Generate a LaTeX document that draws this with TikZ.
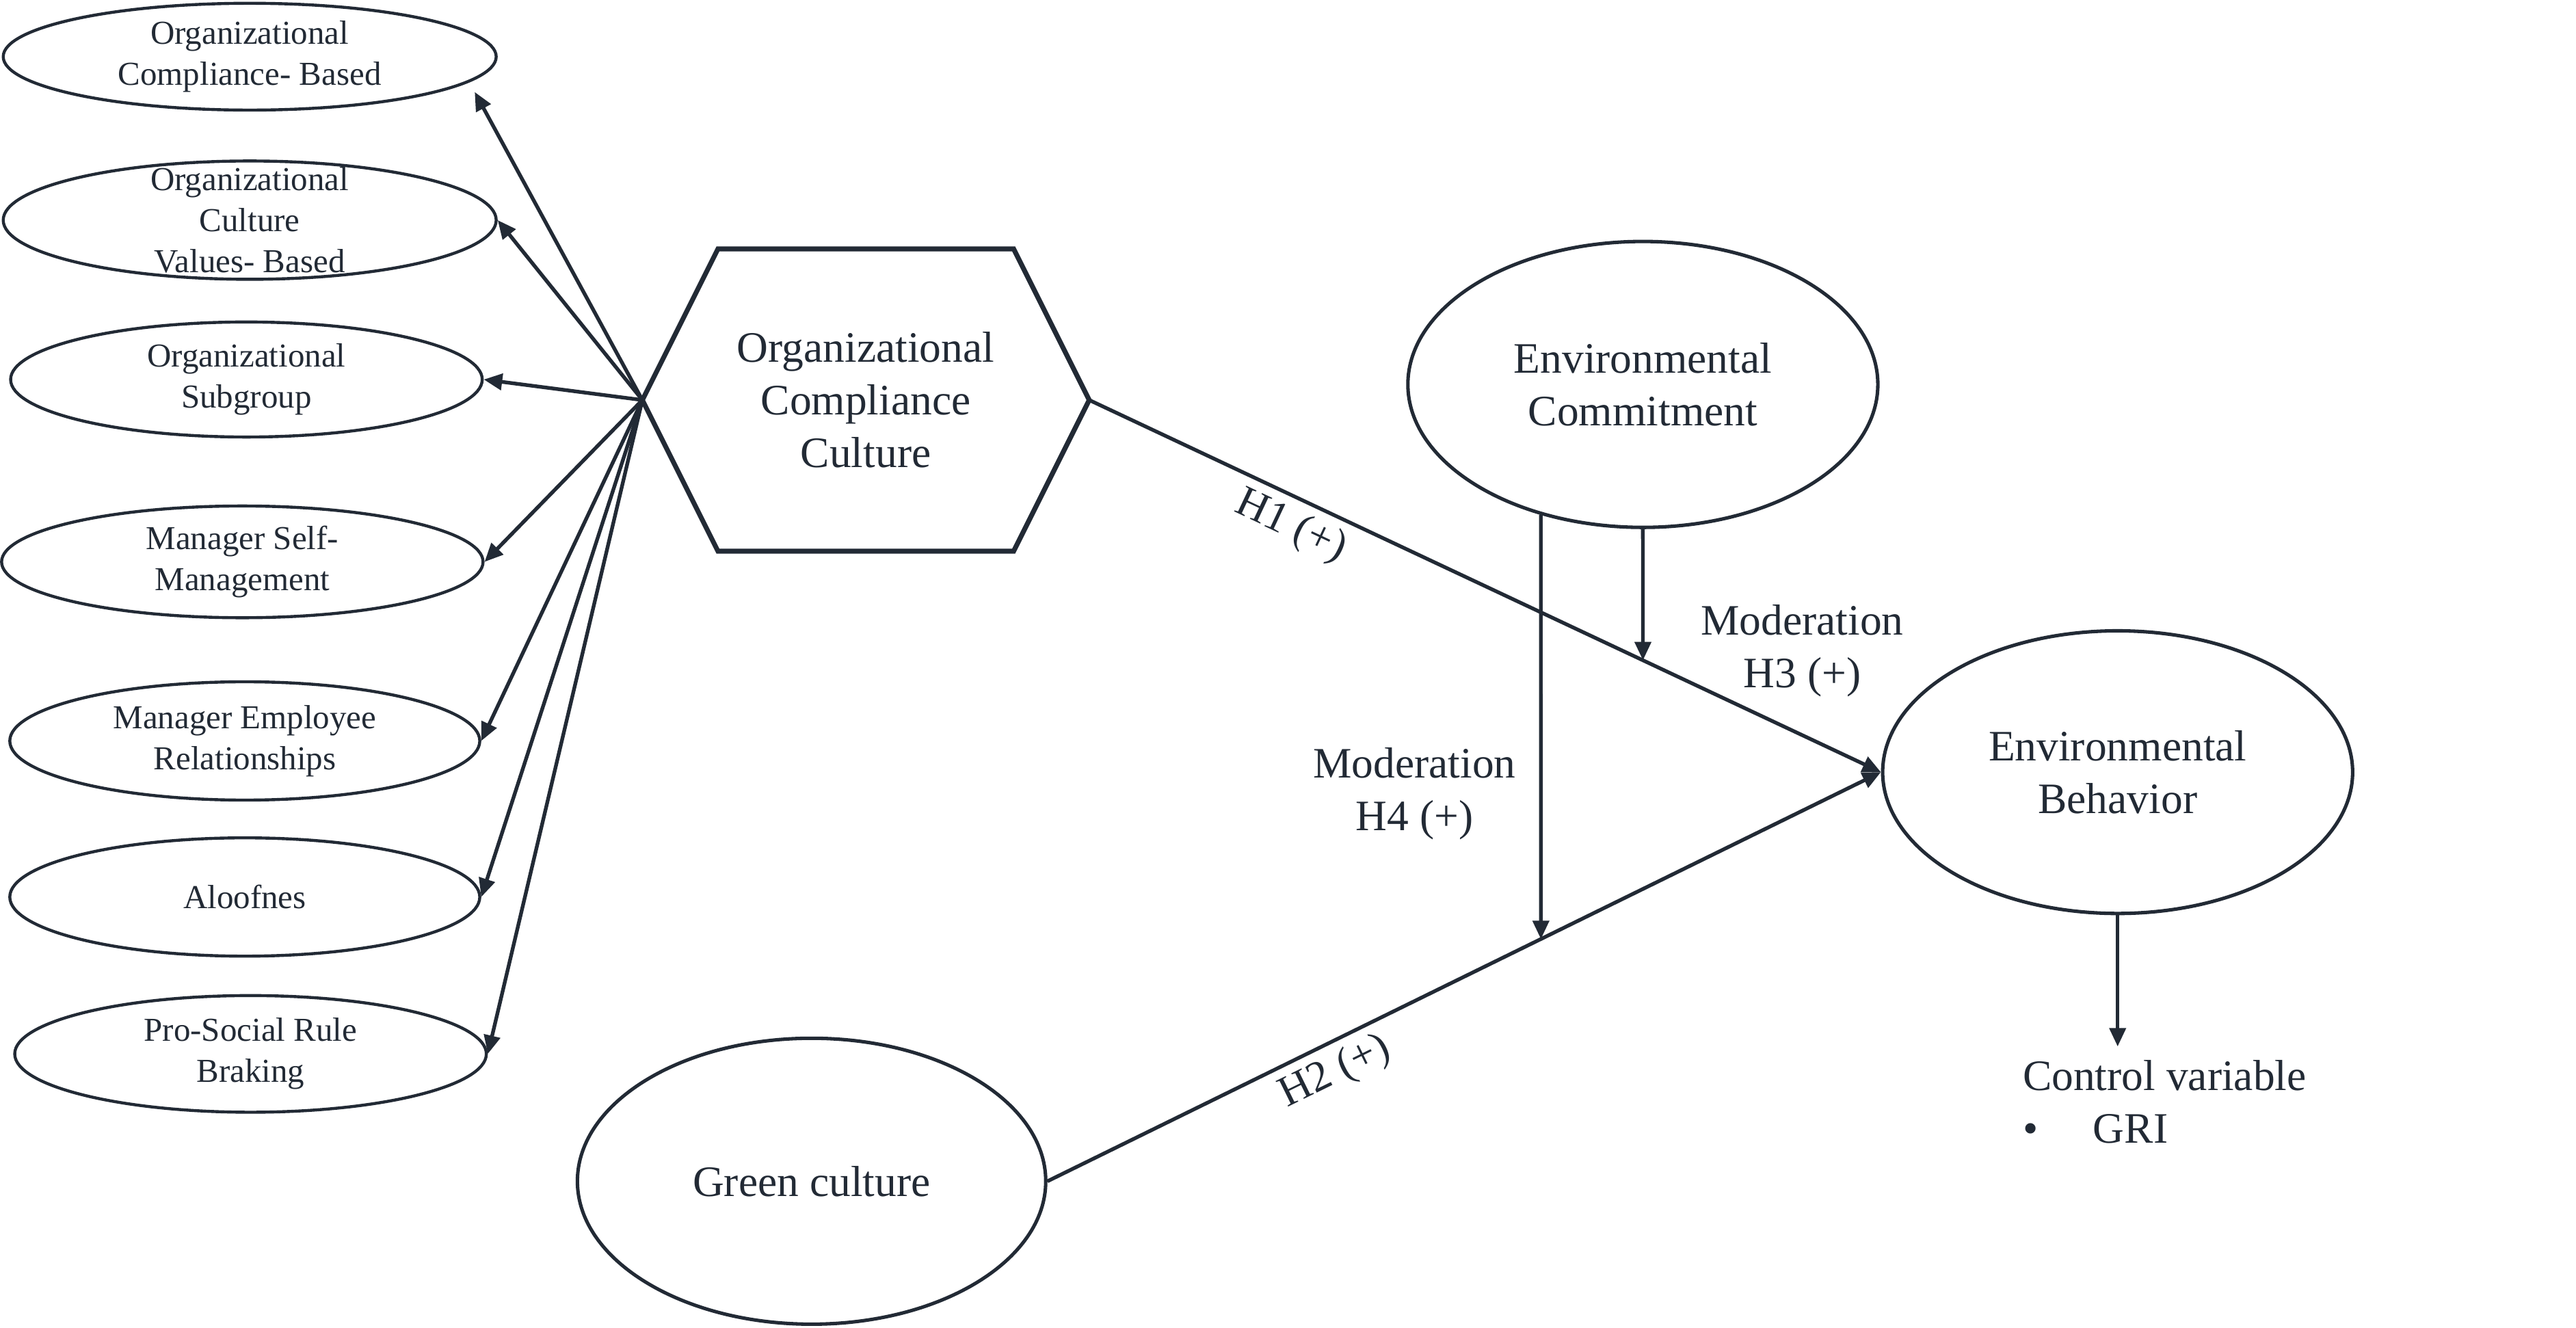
\documentclass[tikz,border=0pt]{standalone}
\usepackage{fontspec}
\setmainfont{Liberation Serif}
\usetikzlibrary{arrows.meta,shapes.geometric}

\definecolor{ink}{HTML}{222A35}
\newcommand{\facfont}{\fontsize{14.5}{17.8}\selectfont}
\newcommand{\keyfont}{\fontsize{18.8}{22.8}\selectfont}

\tikzset{
    factor/.style={ellipse, draw, line width=1.3pt, minimum width=7.2cm,
        minimum height=1.75cm, inner sep=0pt, align=center, font=\facfont},
    construct/.style={ellipse, draw, line width=1.5pt, minimum width=7.15cm,
        minimum height=4.35cm, align=center, font=\keyfont},
    link/.style={line width=1.6pt, -{Triangle[length=8pt,width=7pt]}},
    hyp/.style={font=\keyfont, align=center},
}

\begin{document}
\begin{tikzpicture}[x=0.025cm, y=-0.025cm, color=ink]
    \useasboundingbox (0,0) rectangle (1568,808);

    % Dimensions of the compliance culture
    \node[factor, minimum width=7.5cm, minimum height=1.625cm] (ocb) at (152,34.5) {Organizational\\Compliance- Based};
    \node[factor, minimum width=7.5cm, minimum height=1.8cm, inner ysep=-7pt] (ocv) at (152,134) {Organizational\\Culture\\Values- Based};
    \node[factor, minimum width=7.175cm] (osg) at (150,231) {Organizational\\Subgroup};
    \node[factor, minimum width=7.325cm, minimum height=1.7cm] (msm) at (147.5,342) {Manager Self-\\Management};
    \node[factor, minimum width=7.15cm, minimum height=1.8cm] (mer) at (149,451) {Manager Employee\\Relationships};
    \node[factor, minimum width=7.15cm, minimum height=1.8cm] (alo) at (149,546) {Aloofnes};
    \node[factor, minimum width=7.175cm, minimum height=1.775cm] (psr) at (152.5,641.5) {Pro-Social Rule\\Braking};

    % Hexagon
    \coordinate (occw) at (391,243.5);
    \coordinate (occe) at (663,243.5);
    \draw[line width=2.1pt] (occw) -- (437,151.5) -- (617,151.5) -- (occe) -- (617,335.5) -- (437,335.5) -- cycle;
    \node[hyp] (occ) at (527,243.5) {Organizational\\Compliance\\Culture};

    % Main constructs
    \node[construct] (ec) at (1000,234) {Environmental\\Commitment};
    \node[construct, minimum height=4.3cm] (eb) at (1289,470) {Environmental\\Behavior};
    \node[construct, minimum width=7.125cm] (gc) at (494,719) {Green culture};

    % Arrows to the dimensions
    \draw[link] (occw) -- ([shift={(-14,21.5)}]ocb.east);
    \draw[link] (occw) -- (ocv.east);
    \draw[link] (occw) -- (osg.east);
    \draw[link] (occw) -- (msm.east);
    \draw[link] (occw) -- (mer.east);
    \draw[link] (occw) -- (alo.east);
    \draw[link] (occw) -- (psr.east);

    % Hypotheses
    \draw[link] (occe) -- (eb.west) node[hyp, pos=0.27, below, sloped] (h1) {H1 (+)};
    \draw[link] (gc.east) -- (eb.west) node[hyp, pos=0.33, below, sloped] (h2) {H2 (+)};

    % Moderation
    \coordinate (m3low) at ([yshift=-1cm]ec.south);
    \draw[link] (ec.south) -- (intersection of ec.south--m3low and occe--eb.west);
    \coordinate (m4top) at (ec.232);
    \coordinate (m4low) at ([yshift=-1cm]m4top);
    \draw[link] (m4top) -- (intersection of m4top--m4low and gc.east--eb.west);
    \node[hyp] (mod3) at (1097,396) {Moderation\\H3 (+)};
    \node[hyp] (mod4) at (861,483) {Moderation\\H4 (+)};

    % Control variable
    \node[hyp, align=left, anchor=north west, inner xsep=0pt, inner ysep=5.7pt] (ctrl) at (1231,637) {Control variable\\\textbullet\hspace{1.27em}GRI};
    \draw[link] (eb.south) -- (eb.south |- ctrl.north);
\end{tikzpicture}
\end{document}
